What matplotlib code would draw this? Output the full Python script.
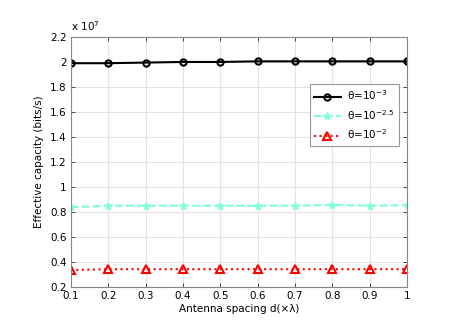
import numpy as np
from matplotlib import pyplot as plt
from matplotlib.ticker import FuncFormatter

spacing = [0.1, 0.2, 0.3, 0.4, 0.5, 0.6, 0.7, 0.8, 0.9, 1.0]
cap_3 = [1.99e7, 1.99e7, 1.995e7, 2.0e7, 2.0e7, 2.005e7, 2.005e7, 2.005e7, 2.005e7, 2.005e7]
cap_25 = [0.837e7, 0.85e7, 0.85e7, 0.85e7, 0.85e7, 0.85e7, 0.85e7, 0.856e7, 0.85e7, 0.854e7]
cap_2 = [0.335e7, 0.342e7, 0.342e7, 0.342e7, 0.342e7, 0.342e7, 0.342e7, 0.342e7, 0.342e7, 0.342e7]
labels = ['\u03b8=10$^{-3}$', '\u03b8=10$^{-2.5}$', '\u03b8=10$^{-2}$']

plt.rcParams['font.family'] = ['DejaVu Sans']
plt.rcParams['font.size'] = 7.5

fig = plt.figure(figsize=(4.63, 3.36), dpi=100)
ax = fig.add_axes([0.153, 0.146, 0.726, 0.744])

ax.plot(spacing, cap_3, '-o', color='black', lw=1.5, ms=4.5, mfc='none', mew=1.5, label=labels[0])
ax.plot(spacing, cap_25, '--*', color='#7fffd4', lw=1.5, ms=5.5, label=labels[1])
ax.plot(spacing, cap_2, ':^', color='red', lw=1.5, ms=5.5, mfc='none', mew=1.5, label=labels[2])

ax.set_xlim(0.1, 1.0)
ax.set_ylim(0.2e7, 2.2e7)
ax.set_xticks(spacing)
ax.set_yticks(np.arange(0.2e7, 2.21e7, 0.2e7))
ax.xaxis.set_major_formatter(FuncFormatter(lambda v, p: '%g' % round(v, 2)))
ax.yaxis.set_major_formatter(FuncFormatter(lambda v, p: '%g' % round(v / 1e7, 2)))
ax.text(0.0, 1.015, 'x 10$^7$', transform=ax.transAxes, ha='left', va='bottom', fontsize=7.5)

ax.grid(True, color='#e3e3e3', lw=0.8)
ax.tick_params(direction='in', top=True, right=True, length=3, width=0.6, color='#333333')
ax.tick_params(axis='x', pad=3)
ax.tick_params(axis='y', pad=3)
for s in ax.spines.values():
    s.set_color('#888888')
    s.set_linewidth(0.8)

ax.set_xlabel('Antenna spacing d(\u00d7\u03bb)', labelpad=2)
ax.set_ylabel('Effective capacity (bits/s)', labelpad=4)

leg = ax.legend(loc='upper right', bbox_to_anchor=(0.975, 0.81), fancybox=False, framealpha=1,
                edgecolor='#999999', handlelength=2.6, handletextpad=0.6, labelspacing=0.55,
                borderpad=0.4, borderaxespad=0)
leg.get_frame().set_linewidth(0.8)

fig.savefig('out.png', dpi=100)
